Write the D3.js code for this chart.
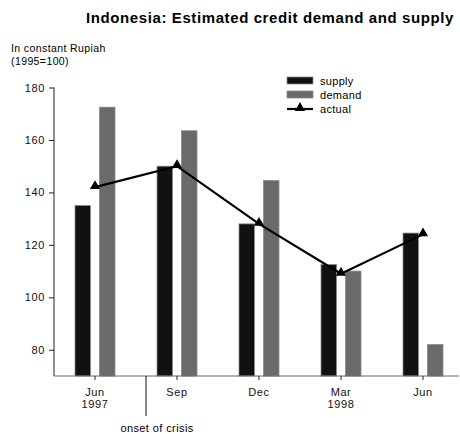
<!DOCTYPE html>
<html>
<head>
<meta charset="utf-8">
<script src="https://cdn.jsdelivr.net/npm/d3@7"></script>
<style>
  body { margin: 0; background: #fff; }
  svg { display: block; font-family: "Liberation Sans", Arial, sans-serif; }
</style>
</head>
<body>
<svg id="chart" width="460" height="434"></svg>
<script>
// data
const categories = ["Jun 1997", "Sep", "Dec", "Mar 1998", "Jun"];
const supply = [135, 150, 128, 112.5, 124.5];
const demand = [172.5, 163.5, 144.5, 110, 82];
const actual = [142, 150, 128, 109, 124];
const yTicks = [80, 100, 120, 140, 160, 180];

const svg = d3.select("#chart");
const plotLeft = 54, plotRight = 464, plotTop = 87.5, plotBottom = 376;

const x = d3.scaleBand().domain(categories).range([plotLeft, plotRight]);
const inner = d3.scaleBand().domain(["supply", "demand"]).range([-20, 20]).paddingInner(0.37);
const y = d3.scaleLinear().domain([70, 180]).range([plotBottom, plotTop]);

const colors = { supply: "#111111", demand: "#6a6a6a" };
const cx = (c) => x(c) + x.bandwidth() / 2;

// title
svg.append("text")
    .attr("x", 270).attr("y", 23)
    .attr("text-anchor", "middle")
    .attr("font-size", 15).attr("font-weight", "bold")
    .attr("letter-spacing", 0.6)
    .text("Indonesia: Estimated credit demand and supply");

// y axis title
svg.append("text").attr("x", 11).attr("y", 52).attr("font-size", 10.5).attr("letter-spacing", 0.4).text("In constant Rupiah");
svg.append("text").attr("x", 11).attr("y", 65).attr("font-size", 10.5).attr("letter-spacing", 0.4).text("(1995=100)");

// bars
const rows = categories.map((c, i) => ({ c, supply: supply[i], demand: demand[i] }));
svg.append("g").selectAll("g")
    .data(rows)
    .enter().append("g")
        .attr("transform", (d) => "translate(" + cx(d.c) + ",0)")
    .selectAll("rect")
    .data((d) => ["supply", "demand"].map((k) => ({ k, v: d[k] })))
    .enter().append("rect")
        .attr("x", (d) => inner(d.k))
        .attr("width", inner.bandwidth())
        .attr("y", (d) => y(d.v))
        .attr("height", (d) => plotBottom - y(d.v))
        .attr("fill", (d) => colors[d.k])
        .attr("stroke", "#8a8a8a")
        .attr("stroke-width", 0.8);

// y axis
const yAxis = svg.append("g")
    .attr("transform", "translate(" + plotLeft + ",0)")
    .call(d3.axisLeft(y).tickValues(yTicks).tickSize(5).tickPadding(4));
yAxis.select(".domain").attr("d", "M0," + y(180) + "V" + plotBottom).attr("stroke", "#222");
yAxis.selectAll("text").attr("font-size", 11).attr("font-family", "Liberation Sans, Arial").attr("letter-spacing", 0.6).attr("fill", "#111");
yAxis.selectAll(".tick line").attr("stroke", "#222");

// x axis
const xAxis = svg.append("g")
    .attr("transform", "translate(0," + plotBottom + ")")
    .call(d3.axisBottom(x).tickSize(4).tickFormat(""));
xAxis.select(".domain").attr("d", "M" + plotLeft + ",0H459").attr("stroke", "#666");
xAxis.selectAll(".tick line").attr("stroke", "#222");
xAxis.selectAll(".tick").each(function (c) {
    const parts = c.split(" ");
    const t = d3.select(this).append("text")
        .attr("fill", "#111").attr("font-size", 11)
        .attr("font-family", "Liberation Sans, Arial")
        .attr("letter-spacing", 0.6)
        .attr("text-anchor", "middle");
    parts.forEach((p, i) => t.append("tspan").attr("x", 0).attr("y", 20 + i * 12).text(p));
});

// onset of crisis marker
const crisisX = (cx(categories[0]) + cx(categories[1])) / 2 + 10;
svg.append("line")
    .attr("x1", crisisX).attr("x2", crisisX)
    .attr("y1", plotBottom).attr("y2", 416)
    .attr("stroke", "#111");
svg.append("text")
    .attr("x", 157).attr("y", 432)
    .attr("text-anchor", "middle").attr("font-size", 11)
    .attr("letter-spacing", 0.4)
    .text("onset of crisis");

// actual line
const line = d3.line().x((d, i) => cx(categories[i])).y((d) => y(d));
svg.append("path")
    .datum(actual)
    .attr("d", line)
    .attr("fill", "none")
    .attr("stroke", "#000")
    .attr("stroke-width", 2.2);
const tri = d3.symbol().type(d3.symbolTriangle).size(45);
svg.append("g").selectAll("path")
    .data(actual)
    .enter().append("path")
        .attr("d", tri)
        .attr("transform", (d, i) => "translate(" + cx(categories[i]) + "," + (y(d) - 1) + ")")
        .attr("fill", "#000");

// legend
const legend = svg.append("g").attr("transform", "translate(287,0)");
const items = [
    { label: "supply", y: 81, kind: "supply" },
    { label: "demand", y: 95, kind: "demand" },
    { label: "actual", y: 109, kind: "actual" }
];
items.forEach((it) => {
    if (it.kind === "actual") {
        legend.append("line")
            .attr("x1", 0).attr("x2", 26).attr("y1", it.y).attr("y2", it.y)
            .attr("stroke", "#000").attr("stroke-width", 2.2);
        legend.append("path").attr("d", tri).attr("transform", "translate(13," + (it.y - 1) + ")");
    } else {
        legend.append("rect")
            .attr("x", 0).attr("y", it.y - 4).attr("width", 26).attr("height", 7)
            .attr("fill", colors[it.kind]).attr("stroke", "#8a8a8a").attr("stroke-width", 0.8);
    }
    legend.append("text")
        .attr("x", 33).attr("y", it.y + 4)
        .attr("font-size", 11)
        .attr("letter-spacing", 0.3)
        .text(it.label);
});
</script>
</body>
</html>
